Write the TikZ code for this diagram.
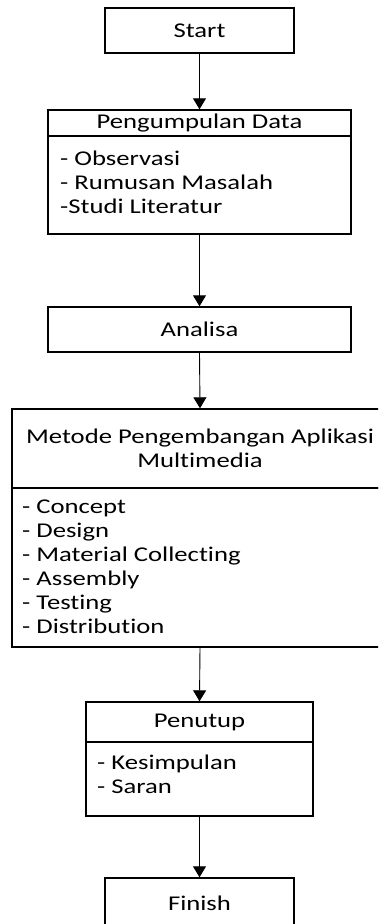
\documentclass[tikz,border=0pt]{standalone}
\usepackage{fontspec}
\setmainfont{Carlito}[FakeStretch=1.27,Ligatures=NoCommon]
\usetikzlibrary{arrows.meta}
\tikzset{
  boxline/.style={draw=black,line width=1.4pt,inner sep=0pt,font=\fontsize{21}{24}\selectfont},
  conn/.style={draw=black,line width=0.9pt,-{Triangle[width=13pt,length=11pt]}},
  lbl/.style={inner sep=0pt,align=left,anchor=west,font=\fontsize{21}{24}\selectfont},
}
\begin{document}
\begin{tikzpicture}[x=1pt,y=-1pt]
\useasboundingbox (0,0) rectangle (378,924);
\clip (0,0) rectangle (378,924);
% Start
\node[boxline,minimum width=189pt,minimum height=45pt] (start) at (199.5,30.5) {Start};
% Pengumpulan Data
\node[boxline,minimum width=303pt,minimum height=26pt] (pdt) at (199.5,123) {Pengumpulan Data};
\node[boxline,minimum width=303pt,minimum height=98pt] (pdb) at (199.5,185) {};
\node[lbl] (pdi) at (60,182) {- Observasi\\- Rumusan Masalah\\-Studi Literatur};
% Analisa
\node[boxline,minimum width=303pt,minimum height=45pt] (ana) at (199.5,329.5) {Analisa};
% Metode
\node[boxline,minimum width=376pt,minimum height=79pt,align=center] (mt) at (200,448.5) {Metode Pengembangan Aplikasi\\Multimedia};
\node[boxline,minimum width=376pt,minimum height=159pt] (mb) at (200,567.5) {};
\node[lbl] (mbi) at (22,567) {- Concept\\- Design\\- Material Collecting\\- Assembly\\- Testing\\- Distribution};
% Penutup
\node[boxline,minimum width=227pt,minimum height=40pt] (pt) at (199.5,722) {Penutup};
\node[boxline,minimum width=227pt,minimum height=74pt] (pb) at (199.5,779) {};
\node[lbl] (pbi) at (97,774) {- Kesimpulan\\- Saran};
% Finish
\node[boxline,minimum width=189pt,minimum height=50pt] (fin) at (199.5,903) {Finish};
% connectors
\draw[conn] (start.south) -- (pdt.north);
\draw[conn] (pdb.south) -- (ana.north);
\draw[conn] (ana.south) -- (mt.north);
\draw[conn] (mb.south) -- (pt.north);
\draw[conn] (pb.south) -- (fin.north);
\end{tikzpicture}
\end{document}
